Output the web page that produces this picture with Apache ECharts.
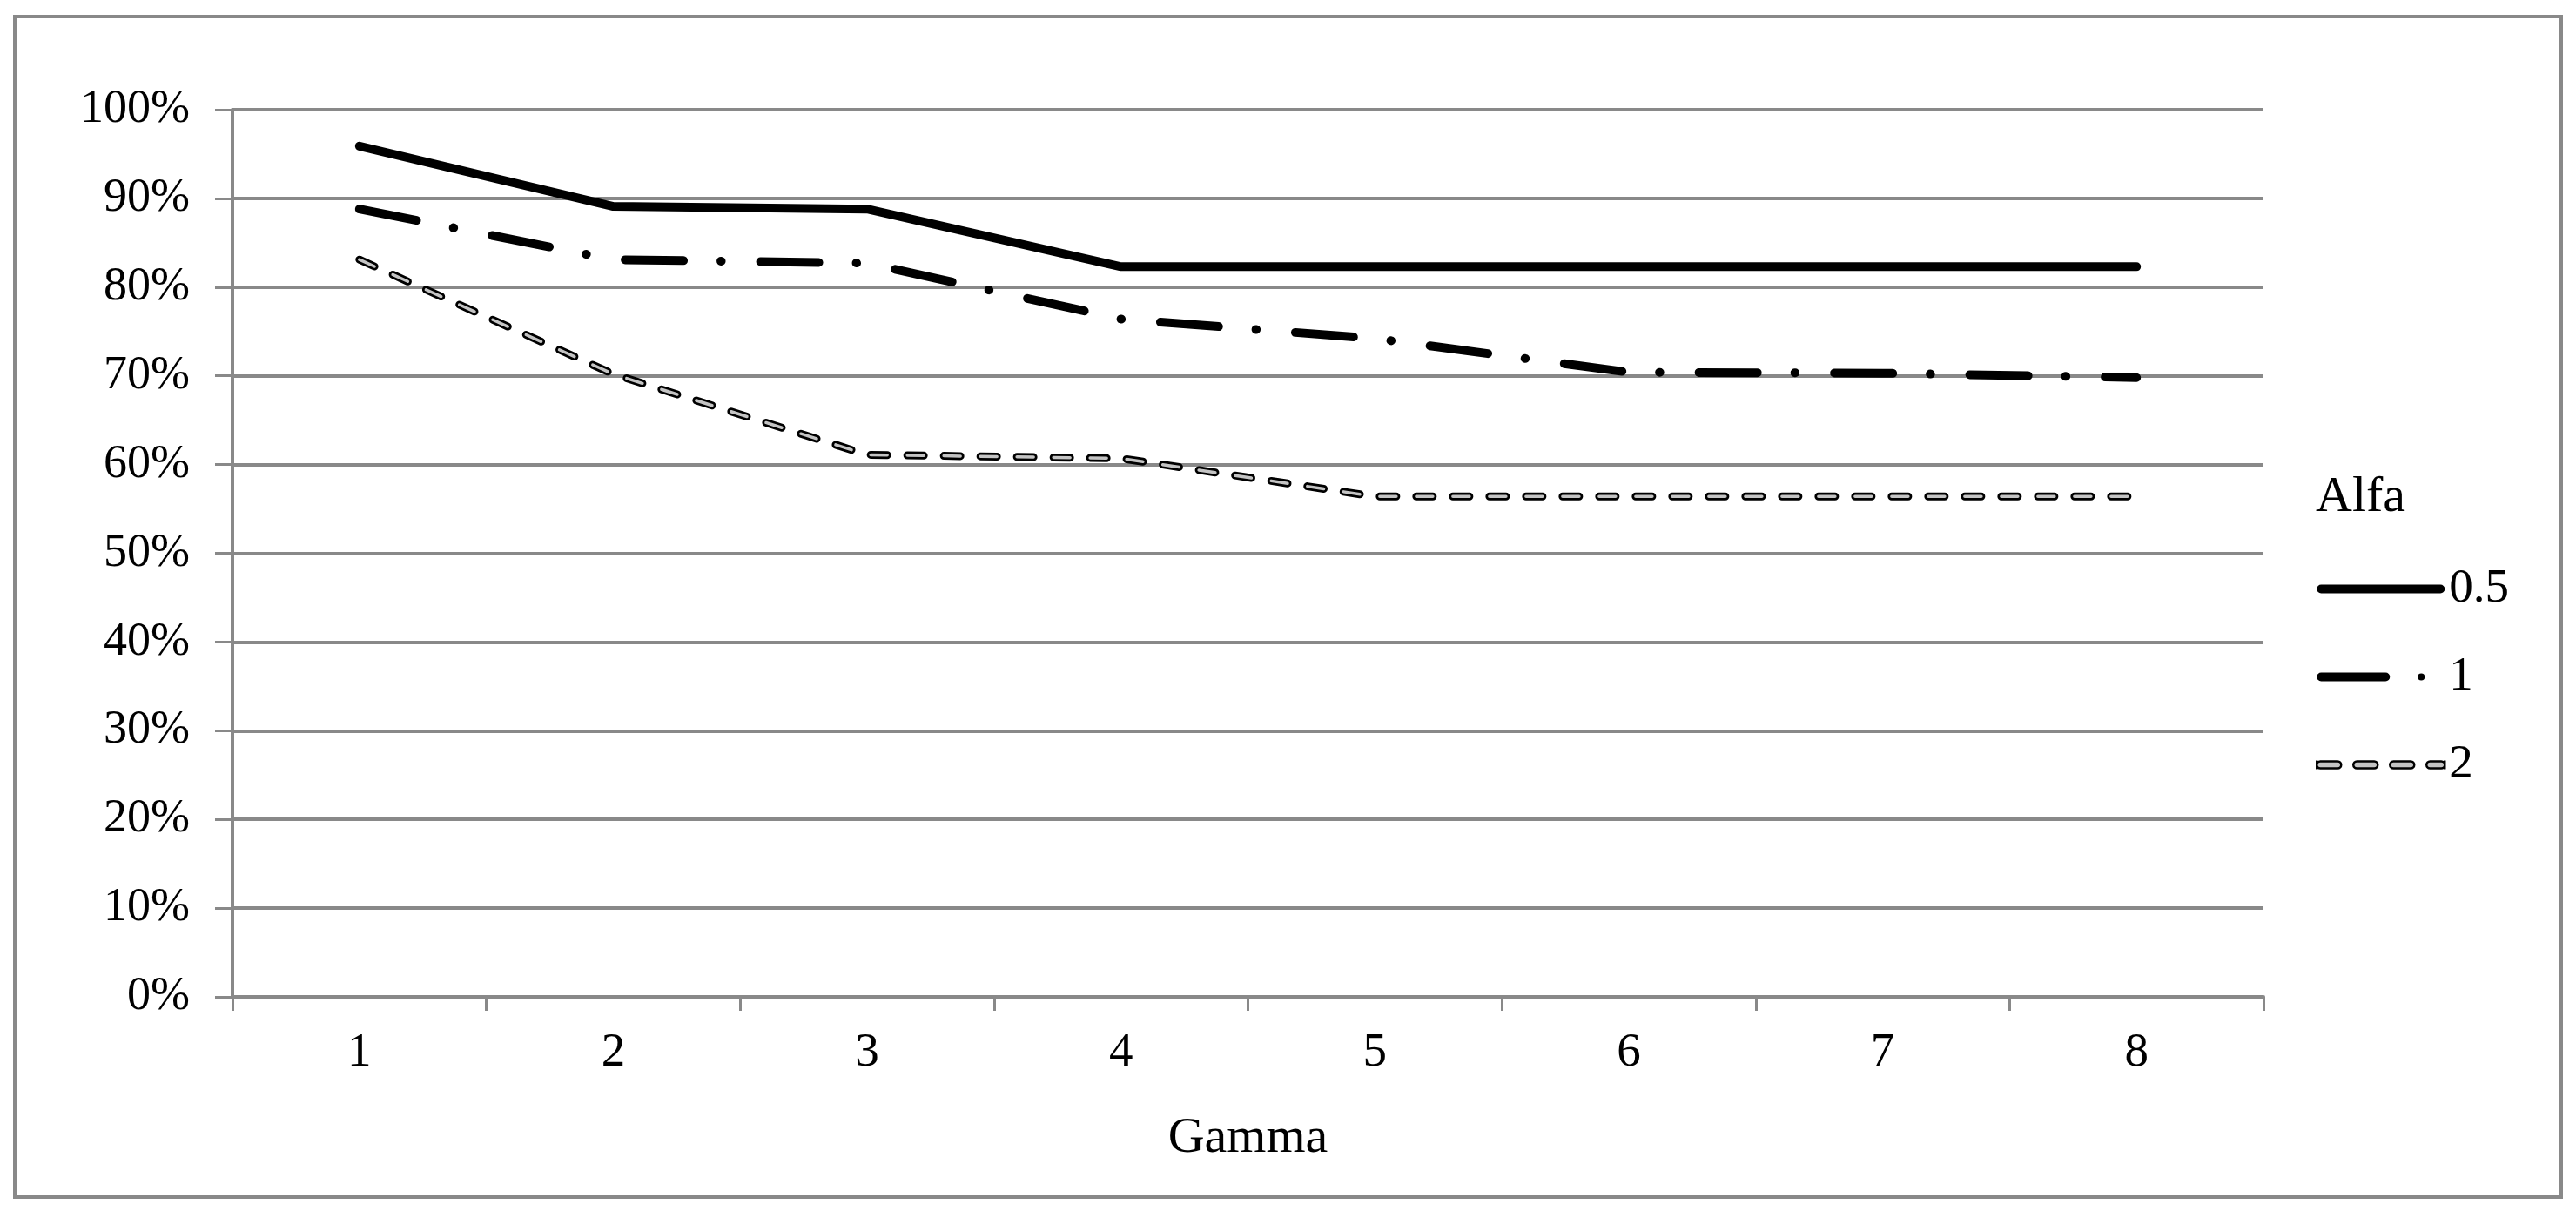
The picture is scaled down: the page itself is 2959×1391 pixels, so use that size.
<!DOCTYPE html>
<html>
<head>
<meta charset="utf-8">
<script src="https://cdn.jsdelivr.net/npm/echarts@6/dist/echarts.min.js"></script>
<style>
html,body{margin:0;padding:0;background:#fff;}
#chart{width:2959px;height:1391px;}
</style>
</head>
<body>
<div id="chart"></div>
<script>
// ---- data ----
const gammaCategories = ['1', '2', '3', '4', '5', '6', '7', '8'];
const alfa05 = [95.9, 89.1, 88.8, 82.3, 82.3, 82.3, 82.3, 82.3];
const alfa1  = [88.8, 83.1, 82.7, 76.4, 74.2, 70.4, 70.3, 69.8];
const alfa2  = [83.1, 70.2, 61.1, 60.7, 56.4, 56.4, 56.4, 56.4];
const seriesNames = ['0.5', '1', '2'];
const yTicks = { min: 0, max: 100, interval: 10 };
const xAxisTitle = 'Gamma';
const legendTitle = 'Alfa';

const FONT = 'Liberation Serif, Times New Roman, serif';
const GRID_GRAY = '#898989';

const chart = echarts.init(document.getElementById('chart'), null, { renderer: 'canvas' });

const option = {
  animation: false,
  backgroundColor: '#ffffff',
  textStyle: { fontFamily: FONT, color: '#000' },
  graphic: [{
    type: 'rect',
    shape: { x: 17, y: 19, width: 2925, height: 1356 },
    style: { fill: 'none', stroke: GRID_GRAY, lineWidth: 4 },
    silent: true
  }],
  title: {
    text: legendTitle,
    left: 2660,
    top: 543,
    padding: 0,
    textStyle: { fontFamily: FONT, fontSize: 58, fontWeight: 'normal', color: '#000', lineHeight: 58 }
  },
  grid: { left: 267, right: 359, top: 126, bottom: 246 },
  xAxis: {
    type: 'category',
    data: gammaCategories,
    boundaryGap: true,
    name: xAxisTitle,
    nameLocation: 'middle',
    nameGap: 134,
    nameTextStyle: { fontFamily: FONT, fontSize: 58, color: '#000', lineHeight: 58 },
    axisLine: { lineStyle: { color: GRID_GRAY, width: 4 } },
    axisTick: { show: true, length: 16, lineStyle: { color: GRID_GRAY, width: 3 } },
    axisLabel: { fontFamily: FONT, fontSize: 55, color: '#000', margin: 37, lineHeight: 55 },
    splitLine: { show: false }
  },
  yAxis: {
    type: 'value',
    min: yTicks.min,
    max: yTicks.max,
    interval: yTicks.interval,
    axisLine: { show: true, lineStyle: { color: GRID_GRAY, width: 4 } },
    axisTick: { show: true, length: 20, lineStyle: { color: GRID_GRAY, width: 3 } },
    axisLabel: { formatter: '{value}%', fontFamily: FONT, fontSize: 54, color: '#000', margin: 49 },
    splitLine: { show: true, lineStyle: { color: GRID_GRAY, width: 4 } }
  },
  legend: {
    orient: 'vertical',
    left: 2660,
    top: 649,
    padding: 0,
    itemWidth: 147,
    itemHeight: 10,
    itemGap: 46,
    symbolKeepAspect: false,
    selectedMode: false,
    textStyle: { fontFamily: FONT, fontSize: 55, color: '#000', lineHeight: 55 },
    data: [
      { name: seriesNames[0],
        icon: 'path://M5,0H142A5,5,0,0,1,142,10H5A5,5,0,0,1,5,0Z',
        itemStyle: { color: '#000', borderWidth: 0 } },
      { name: seriesNames[1],
        icon: 'path://M5,0H79A5,5,0,0,1,79,10H5A5,5,0,0,1,5,0Z M116,5A4,4,0,1,1,124,5A4,4,0,1,1,116,5Z M147,0L147,10L147,0Z',
        itemStyle: { color: '#000', borderWidth: 0 } },
      { name: seriesNames[2],
        icon: 'path://M4,1H24A4,4,0,0,1,24,9H4A4,4,0,0,1,4,1Z M46,1H66A4,4,0,0,1,66,9H46A4,4,0,0,1,46,1Z M88,1H108A4,4,0,0,1,108,9H88A4,4,0,0,1,88,1Z M130,1H143A4,4,0,0,1,143,9H130A4,4,0,0,1,130,1Z M0,0L0,10L0,0Z M147,0L147,10L147,0Z',
        itemStyle: { color: '#c4c4c4', borderColor: '#000', borderWidth: 2.5 } }
    ]
  },
  series: [
    {
      name: seriesNames[0], type: 'line', data: alfa05,
      symbol: 'none', silent: true, z: 5,
      lineStyle: { color: '#000', width: 10, type: 'solid', cap: 'round', join: 'round' },
      itemStyle: { color: '#000' }
    },
    {
      name: seriesNames[1], type: 'line', data: alfa1,
      symbol: 'none', silent: true, z: 5,
      lineStyle: { color: '#000', width: 10, type: [67, 43, 0.5, 45], cap: 'round', join: 'round' },
      itemStyle: { color: '#000' }
    },
    {
      name: seriesNames[2], type: 'line', data: alfa2,
      symbol: 'none', silent: true, z: 5,
      lineStyle: { color: '#000', width: 9, type: [19, 23], cap: 'round', join: 'round' },
      itemStyle: { color: '#000' }
    },
    {
      name: seriesNames[2] + '_inner', type: 'line', data: alfa2,
      symbol: 'none', silent: true, z: 6,
      lineStyle: { color: '#c4c4c4', width: 3.5, type: [19, 23], cap: 'round', join: 'round' },
      itemStyle: { color: '#c4c4c4' }
    }
  ]
};

chart.setOption(option);
</script>
</body>
</html>
